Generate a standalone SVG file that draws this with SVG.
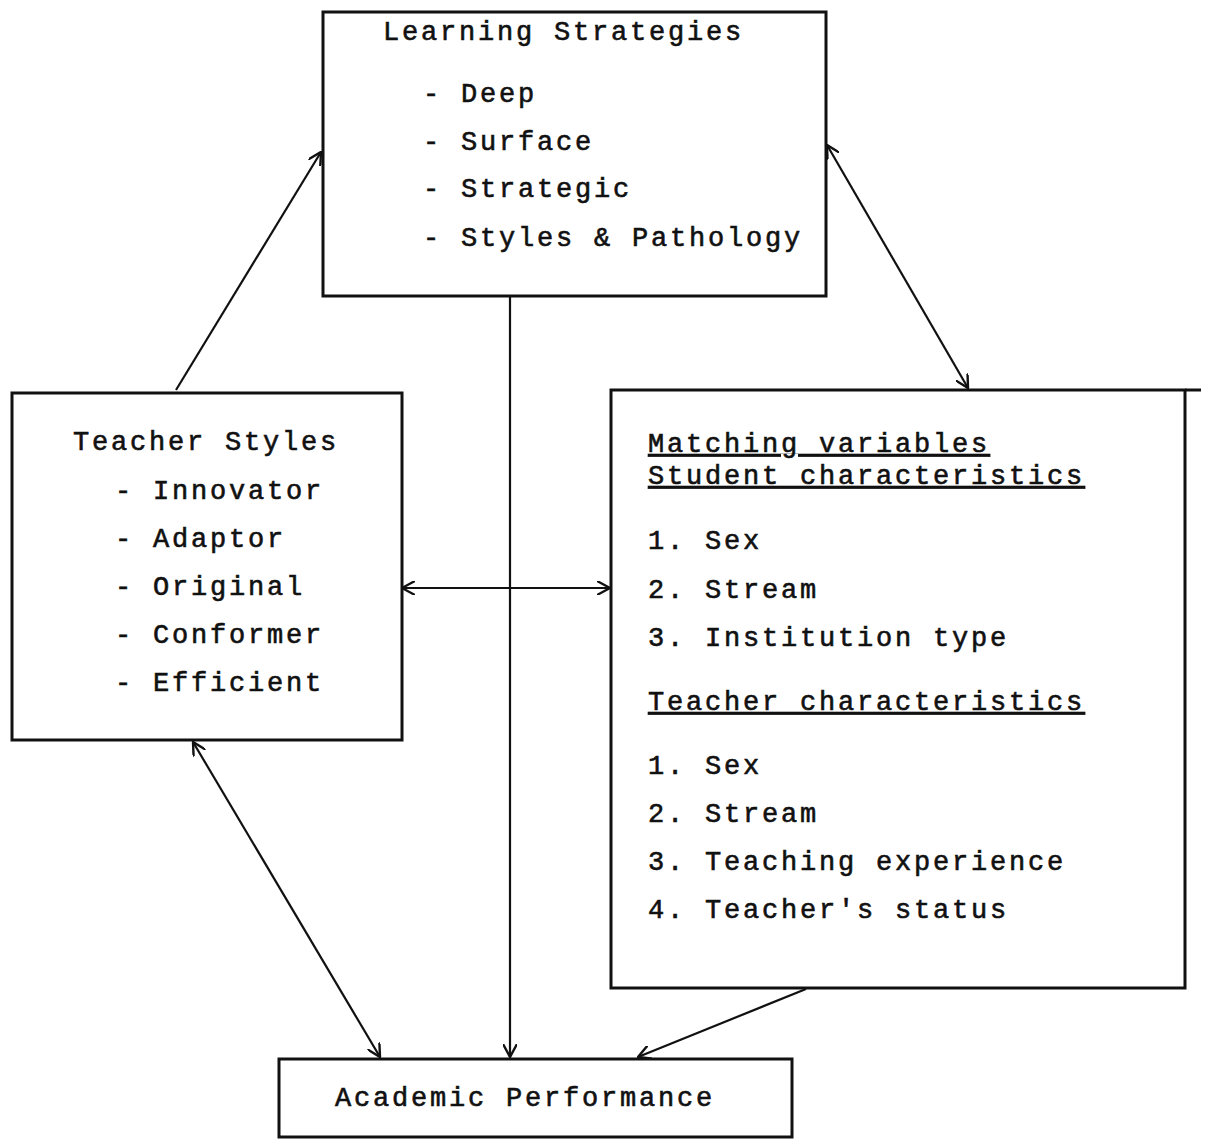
<svg xmlns="http://www.w3.org/2000/svg" width="1209" height="1140" viewBox="0 0 1209 1140">
<style>
.box{fill:none;stroke:#111;stroke-width:3}
.t{font-family:"Liberation Mono","Courier New",monospace;font-size:27px;letter-spacing:2.8px;fill:#111;stroke:#111;stroke-width:0.6}
.u{text-decoration:underline}
.c{fill:none;stroke:#111;stroke-width:2.2}
</style>
<defs>
<marker id="ah" viewBox="0 0 14 14" refX="13" refY="7" markerWidth="14" markerHeight="14" markerUnits="userSpaceOnUse" orient="auto-start-reverse">
<path d="M0,0 L13,7 L0,14" fill="none" stroke="#111" stroke-width="2.4"/>
</marker>
</defs>
<rect width="1209" height="1140" fill="#fff"/>
<g id="connectors">
<line class="c" x1="176" y1="390" x2="321" y2="152" marker-end="url(#ah)"/>
<line class="c" x1="827" y1="145" x2="968" y2="388" marker-start="url(#ah)" marker-end="url(#ah)"/>
<line class="c" x1="510" y1="297" x2="510" y2="1057" marker-end="url(#ah)"/>
<line class="c" x1="402" y1="588" x2="610" y2="588" marker-start="url(#ah)" marker-end="url(#ah)" stroke-width="3"/>
<line class="c" x1="193" y1="742" x2="380" y2="1057" marker-start="url(#ah)" marker-end="url(#ah)"/>
<line class="c" x1="806" y1="989" x2="638" y2="1057" marker-end="url(#ah)" stroke-width="3"/>
</g>
<g id="learning-strategies">
<rect class="box" x="323" y="12" width="503" height="284"/>
<text class="t" x="383" y="40">Learning Strategies</text>
<text class="t" x="423" y="102">- Deep</text>
<text class="t" x="423" y="150">- Surface</text>
<text class="t" x="423" y="197">- Strategic</text>
<text class="t" x="423" y="246">- Styles &amp; Pathology</text>
</g>
<g id="teacher-styles">
<rect class="box" x="12" y="393" width="390" height="347"/>
<text class="t" x="73" y="450">Teacher Styles</text>
<text class="t" x="115" y="499">- Innovator</text>
<text class="t" x="115" y="547">- Adaptor</text>
<text class="t" x="115" y="595">- Original</text>
<text class="t" x="115" y="643">- Conformer</text>
<text class="t" x="115" y="691">- Efficient</text>
</g>
<g id="matching-variables">
<rect class="box" x="611" y="390" width="574" height="598"/>
<line class="box" x1="1185" y1="390" x2="1201" y2="390"/>
<text class="t u" x="648" y="452">Matching variables</text>
<text class="t u" x="648" y="484">Student characteristics</text>
<text class="t" x="648" y="549">1. Sex</text>
<text class="t" x="648" y="598">2. Stream</text>
<text class="t" x="648" y="646">3. Institution type</text>
<text class="t u" x="648" y="710">Teacher characteristics</text>
<text class="t" x="648" y="774">1. Sex</text>
<text class="t" x="648" y="822">2. Stream</text>
<text class="t" x="648" y="870">3. Teaching experience</text>
<text class="t" x="648" y="918">4. Teacher's status</text>
</g>
<g id="academic-performance">
<rect class="box" x="279" y="1059" width="513" height="78"/>
<text class="t" x="335" y="1106">Academic Performance</text>
</g>
</svg>
